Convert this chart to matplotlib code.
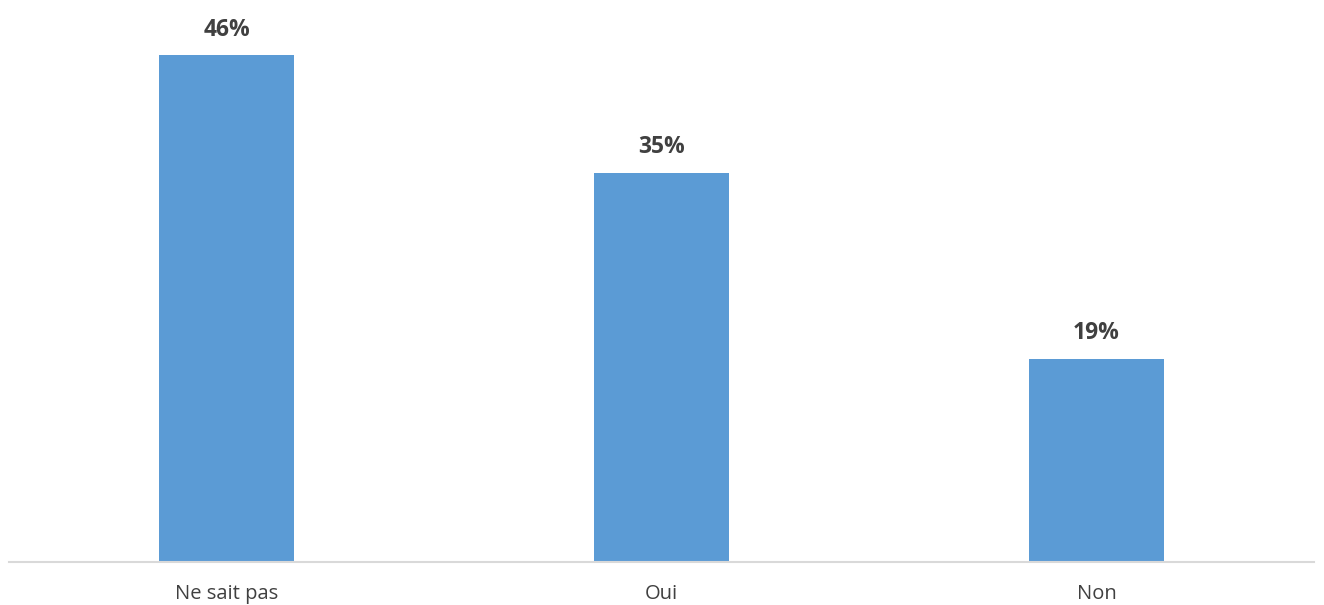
import matplotlib
matplotlib.use("Agg")
import matplotlib.pyplot as plt

categories = ["Ne sait pas", "Oui", "Non"]
values = [46.1, 35.4, 18.5]
labels = ["46%", "35%", "19%"]

fig = plt.figure(figsize=(13.24, 6.05), dpi=100)
ax = fig.add_axes([9 / 1324, 43 / 605, 1305 / 1324, 550 / 605])

x = range(len(categories))
bars = ax.bar(x, values, width=0.31, color="#5B9BD5")
for bar, lab in zip(bars, labels):
    ax.text(bar.get_x() + bar.get_width() / 2, bar.get_height() + 1.2, lab,
            ha="center", va="bottom", fontsize=16.5, fontweight="bold",
            color="#404040", family="Open Sans")

ax.set_xlim(-0.5, 2.5)
ax.set_ylim(0, 50)
ax.set_xticks(list(x))
ax.set_xticklabels(categories, fontsize=14.5, color="#404040", family="Open Sans")
ax.tick_params(axis="x", length=0, pad=16)
ax.set_yticks([])
for side in ["top", "left", "right"]:
    ax.spines[side].set_visible(False)
ax.spines["bottom"].set_color("#D9D9D9")
ax.spines["bottom"].set_linewidth(1.5)

fig.savefig("out.png", dpi=100)
